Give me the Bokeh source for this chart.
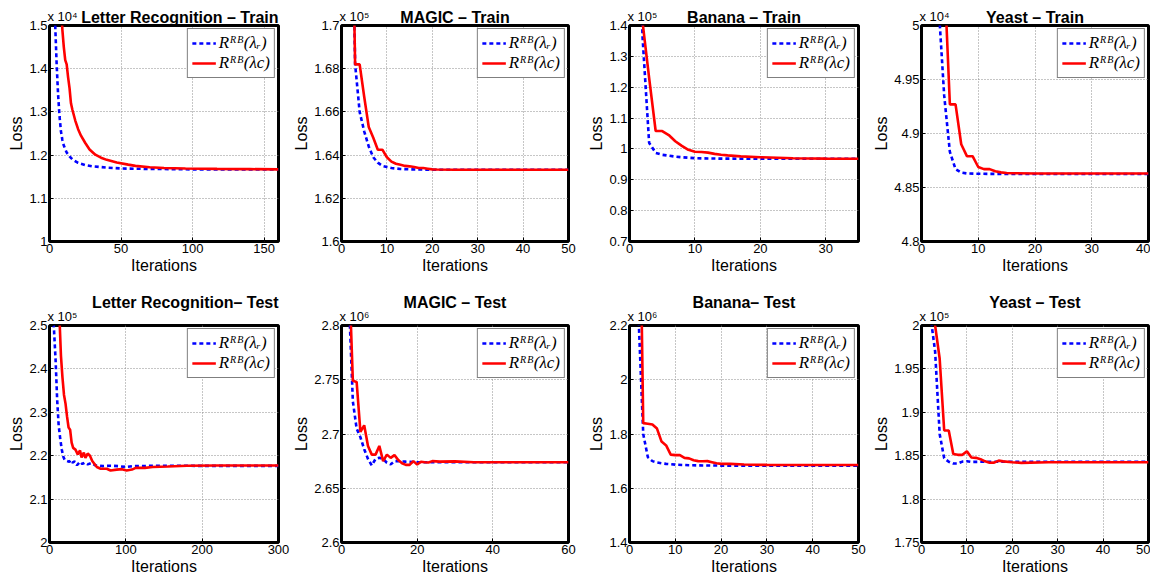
from bokeh.plotting import figure
from bokeh.layouts import column, row
from bokeh.models import FixedTicker, CustomJSTickFormatter, Label, Range1d
from bokeh.embed import file_html
from bokeh.resources import INLINE

# ---------------- data (loss values in units of the axis multiplier) ----------------
lr_train_iter_r = [1, 2, 3, 4, 5, 6, 7, 8, 9, 10, 12, 14, 16, 20, 25, 30, 40, 50, 70, 100, 130, 160]
lr_train_loss_r = [2.10, 1.80, 1.62, 1.50, 1.41, 1.34, 1.29, 1.255, 1.235, 1.222, 1.206, 1.197, 1.190,
                   1.182, 1.177, 1.174, 1.171, 1.169, 1.168, 1.167, 1.167, 1.167]
lr_train_iter_c = [7, 8, 9, 10, 11, 12, 13, 14, 15, 16, 18, 20, 22, 25, 28, 32, 36, 40, 47, 55, 60, 70,
                   80, 95, 117, 140, 160]
lr_train_loss_c = [1.62, 1.55, 1.49, 1.45, 1.42, 1.41, 1.38, 1.355, 1.32, 1.305, 1.28, 1.26, 1.245, 1.228,
                   1.213, 1.201, 1.194, 1.189, 1.183, 1.178, 1.175, 1.172, 1.170, 1.169, 1.168, 1.1675, 1.167]

magic_train_iter_r = [2, 3, 4, 5, 6, 7, 8, 9, 10, 11, 12, 13, 15, 18, 20, 30, 50]
magic_train_loss_r = [1.80, 1.682, 1.660, 1.651, 1.644, 1.639, 1.6365, 1.635, 1.6345, 1.634, 1.6338,
                      1.6336, 1.6334, 1.6333, 1.6332, 1.6332, 1.6332]
magic_train_iter_c = [2, 3, 4, 5, 6, 7, 8, 9, 10, 11, 12, 13, 14, 15, 16, 17, 18, 19, 20, 21, 25, 30, 50]
magic_train_loss_c = [1.80, 1.682, 1.682, 1.667, 1.653, 1.648, 1.6425, 1.6425, 1.639, 1.637, 1.636,
                      1.6355, 1.635, 1.6348, 1.6345, 1.634, 1.634, 1.6337, 1.6334, 1.6333, 1.6332,
                      1.6332, 1.6332]

banana_train_iter_r = [1, 2, 3, 4, 5, 6, 7, 8, 10, 12, 15, 20, 35]
banana_train_loss_r = [2.0, 1.36, 1.02, 0.987, 0.981, 0.978, 0.975, 0.973, 0.970, 0.969, 0.9685, 0.968, 0.968]
banana_train_iter_c = [1, 2, 3, 4, 5, 6, 7, 8, 9, 10, 11, 12, 13, 14, 15, 17, 20, 25, 30, 35]
banana_train_loss_c = [1.9, 1.41, 1.23, 1.058, 1.058, 1.045, 1.025, 1.01, 0.997, 0.991, 0.990, 0.988,
                       0.984, 0.981, 0.979, 0.976, 0.973, 0.970, 0.9685, 0.968]

yeast_train_iter_r = [2, 3, 4, 5, 6, 7, 8, 10, 15, 40]
yeast_train_loss_r = [5.15, 5.02, 4.935, 4.883, 4.867, 4.8638, 4.863, 4.8627, 4.8625, 4.8625]
yeast_train_iter_c = [3, 4, 5, 6, 7, 8, 9, 10, 11, 12, 13, 14, 15, 16, 20, 40]
yeast_train_loss_c = [5.2, 5.05, 4.927, 4.927, 4.89, 4.879, 4.879, 4.869, 4.867, 4.867, 4.865, 4.864,
                      4.8634, 4.8632, 4.863, 4.863]

lr_test_iter_r = [3, 5, 8, 10, 12, 14, 16, 18, 20, 23, 26, 28, 30, 33, 36, 40, 43, 46, 50, 55, 60, 70, 80,
                  90, 100, 110, 130, 160, 200, 300]
lr_test_loss_r = [2.65, 2.52, 2.42, 2.33, 2.27, 2.24, 2.215, 2.198, 2.19, 2.188, 2.186, 2.19, 2.184, 2.187,
                  2.178, 2.186, 2.181, 2.184, 2.18, 2.183, 2.178, 2.176, 2.177, 2.176, 2.174, 2.176,
                  2.1765, 2.177, 2.1765, 2.1765]
lr_test_iter_c = [12, 13, 15, 17, 19, 21, 23, 25, 27, 29, 31, 34, 37, 40, 42, 45, 47, 50, 53, 56, 59, 62,
                  67, 75, 80, 88, 95, 101, 108, 113, 125, 135, 155, 180, 220, 300]
lr_test_loss_c = [2.56, 2.52, 2.43, 2.38, 2.34, 2.32, 2.29, 2.265, 2.26, 2.23, 2.218, 2.214, 2.203, 2.212,
                  2.196, 2.207, 2.195, 2.205, 2.2, 2.188, 2.181, 2.174, 2.17, 2.17, 2.166, 2.168, 2.169,
                  2.166, 2.168, 2.172, 2.172, 2.174, 2.175, 2.177, 2.1775, 2.1775]

magic_test_iter_r = [2, 3, 4, 5, 6, 7, 8, 9, 10, 11, 12, 13, 14, 15, 17, 20, 60]
magic_test_loss_r = [2.82, 2.73, 2.705, 2.697, 2.686, 2.677, 2.671, 2.677, 2.678, 2.677, 2.6735, 2.672,
                     2.675, 2.675, 2.6745, 2.674, 2.674]
magic_test_iter_c = [2, 3, 4, 5, 6, 7, 8, 9, 10, 11, 12, 13, 14, 15, 16, 17, 18, 19, 20, 21, 22, 23, 24,
                     26, 30, 35, 40, 60]
magic_test_loss_c = [2.85, 2.749, 2.748, 2.702, 2.708, 2.689, 2.681, 2.681, 2.689, 2.675, 2.681, 2.678,
                     2.6805, 2.676, 2.673, 2.6715, 2.6715, 2.675, 2.6718, 2.6745, 2.674, 2.6738, 2.675,
                     2.6745, 2.6748, 2.674, 2.674, 2.674]

banana_test_iter_r = [1, 2, 3, 4, 5, 6, 7, 8, 10, 13, 16, 20, 50]
banana_test_loss_r = [2.6, 2.22, 1.80, 1.715, 1.70, 1.695, 1.692, 1.69, 1.687, 1.685, 1.684, 1.6835, 1.6835]
banana_test_iter_c = [2, 3, 4, 5, 6, 7, 8, 9, 10, 11, 12, 13, 14, 15, 16, 17, 18, 19, 20, 22, 25, 30, 50]
banana_test_loss_c = [3.0, 1.84, 1.838, 1.835, 1.82, 1.772, 1.758, 1.724, 1.722, 1.722, 1.712, 1.710,
                      1.703, 1.700, 1.6995, 1.700, 1.696, 1.692, 1.690, 1.690, 1.6875, 1.686, 1.6855]

yeast_test_iter_r = [1, 2, 3, 4, 5, 6, 7, 8, 9, 10, 11, 13, 50]
yeast_test_loss_r = [2.06, 2.01, 1.97, 1.875, 1.847, 1.843, 1.841, 1.841, 1.8432, 1.8436, 1.8428, 1.843, 1.843]
yeast_test_iter_c = [2, 3, 4, 5, 6, 7, 8, 9, 10, 11, 12, 13, 14, 15, 16, 17, 18, 20, 22, 28, 50]
yeast_test_loss_c = [2.05, 2.0, 1.962, 1.879, 1.879, 1.852, 1.851, 1.851, 1.855, 1.848, 1.8475, 1.846,
                     1.8435, 1.8418, 1.842, 1.8443, 1.8435, 1.8425, 1.8417, 1.8425, 1.8425]

panel_titles = ["Letter Recognition – Train", "MAGIC – Train", "Banana – Train", "Yeast – Train",
                "Letter Recognition– Test", "MAGIC – Test", "Banana– Test", "Yeast – Test"]
exponent_labels = ["x 10⁴", "x 10⁵", "x 10⁵", "x 10⁴", "x 10⁵", "x 10⁶", "x 10⁶", "x 10⁵"]
x_max = [160, 50, 35, 40, 300, 60, 50, 50]
x_tick_lists = [[0, 50, 100, 150], [0, 10, 20, 30, 40, 50], [0, 10, 20, 30], [0, 10, 20, 30, 40],
                [0, 100, 200, 300], [0, 20, 40, 60], [0, 10, 20, 30, 40, 50], [0, 10, 20, 30, 40, 50]]
y_limits = [(1.0, 1.5), (1.6, 1.7), (0.7, 1.4), (4.8, 5.0), (2.0, 2.5), (2.6, 2.8), (1.4, 2.2), (1.75, 2.0)]
y_tick_lists = [[1.0, 1.1, 1.2, 1.3, 1.4, 1.5],
                [1.6, 1.62, 1.64, 1.66, 1.68, 1.7],
                [0.7, 0.8, 0.9, 1.0, 1.1, 1.2, 1.3, 1.4],
                [4.8, 4.85, 4.9, 4.95, 5.0],
                [2.0, 2.1, 2.2, 2.3, 2.4, 2.5],
                [2.6, 2.65, 2.7, 2.75, 2.8],
                [1.4, 1.6, 1.8, 2.0, 2.2],
                [1.75, 1.8, 1.85, 1.9, 1.95, 2.0]]
legend_labels = ["Rᴿᴮ(λᵣ)", "Rᴿᴮ(λc)"]
x_axis_label = "Iterations"
y_axis_label = "Loss"

series = [
    (lr_train_iter_r, lr_train_loss_r, lr_train_iter_c, lr_train_loss_c),
    (magic_train_iter_r, magic_train_loss_r, magic_train_iter_c, magic_train_loss_c),
    (banana_train_iter_r, banana_train_loss_r, banana_train_iter_c, banana_train_loss_c),
    (yeast_train_iter_r, yeast_train_loss_r, yeast_train_iter_c, yeast_train_loss_c),
    (lr_test_iter_r, lr_test_loss_r, lr_test_iter_c, lr_test_loss_c),
    (magic_test_iter_r, magic_test_loss_r, magic_test_iter_c, magic_test_loss_c),
    (banana_test_iter_r, banana_test_loss_r, banana_test_iter_c, banana_test_loss_c),
    (yeast_test_iter_r, yeast_test_loss_r, yeast_test_iter_c, yeast_test_loss_c),
]

# ---------------- layout ----------------
col_left = [49, 49, 49, 48]
col_right = [12, 12, 12, 2]
col_frame_w = [229, 229, 229, 230]
row_top = [25, 34]
row_frame_h = [218, 220]
row_bottom = [48, 32]
exp_side = ["below", "above"]   # side panel that reserves room for the multiplier label

fmt_code = "return String(Number(tick.toFixed(4)));"
SANS = "Liberation Sans"


def make_panel(i):
    c = i % 4
    r = i // 4
    xs_r, ys_r, xs_c, ys_c = series[i]
    p = figure(width=col_left[c] + col_frame_w[c] + col_right[c],
               height=row_top[r] + row_frame_h[r] + row_bottom[r],
               x_range=Range1d(0, x_max[i]), y_range=Range1d(*y_limits[i]),
               min_border_left=col_left[c], min_border_right=col_right[c],
               min_border_top=row_top[r], min_border_bottom=row_bottom[r],
               output_backend="svg", toolbar_location=None, tools="",
               title=panel_titles[i])
    p.title.text_font = SANS
    p.title.text_font_size = "16px"
    p.title.text_font_style = "bold"
    p.title.text_color = "black"
    p.title.standoff = 0
    p.title.align = "right" if c == 0 else "center"

    p.background_fill_color = "white"
    p.border_fill_color = "white"
    p.outline_line_color = "black"
    p.outline_line_width = 3
    p.outline_line_alpha = 1.0

    p.xaxis.ticker = FixedTicker(ticks=x_tick_lists[i])
    p.yaxis.ticker = FixedTicker(ticks=y_tick_lists[i])
    p.xaxis.formatter = CustomJSTickFormatter(code=fmt_code)
    p.yaxis.formatter = CustomJSTickFormatter(code=fmt_code)
    p.xaxis.axis_label = x_axis_label
    p.yaxis.axis_label = y_axis_label
    for ax in (p.xaxis[0], p.yaxis[0]):
        ax.axis_line_color = None
        ax.major_tick_in = 4
        ax.major_tick_out = 0
        ax.major_tick_line_color = "black"
        ax.minor_tick_line_color = None
        ax.major_label_text_font = SANS
        ax.major_label_text_font_size = "13px"
        ax.major_label_text_color = "black"
        ax.major_label_standoff = 2
        ax.axis_label_text_font = SANS
        ax.axis_label_text_font_size = "16px"
        ax.axis_label_text_font_style = "normal"
        ax.axis_label_text_color = "black"
        ax.axis_label_standoff = 1

    for g in (p.xgrid[0], p.ygrid[0]):
        g.grid_line_color = "#8c8c8c"
        g.grid_line_dash = "1 2"
        g.grid_line_width = 1

    p.line(xs_r, ys_r, line_color="#0000ff", line_width=2.6, line_dash="4 3",
           legend_label=legend_labels[0])
    p.line(xs_c, ys_c, line_color="#ff0000", line_width=2.6,
           legend_label=legend_labels[1])

    lg = p.legend[0]
    lg.location = "top_right"
    lg.margin = 3
    lg.padding = 4
    lg.spacing = 0
    lg.border_line_color = "black"
    lg.border_line_width = 1
    lg.background_fill_color = "white"
    lg.background_fill_alpha = 1.0
    lg.label_text_font = "Liberation Serif"
    lg.label_text_font_style = "italic"
    lg.label_text_font_size = "17px"
    lg.label_text_color = "black"
    lg.glyph_width = 24
    lg.glyph_height = 16
    lg.label_height = 16
    lg.label_standoff = 3

    # axis multiplier, drawn at the top-left corner of the frame (kept in a side
    # panel so that it is not clipped to the frame)
    p.add_layout(Label(x=0, y=y_limits[i][1], text=exponent_labels[i],
                       text_font=SANS, text_font_size="13px", text_color="black",
                       text_align="left", text_baseline="bottom",
                       x_offset=-2, y_offset=2), exp_side[r])
    return p


panels = [make_panel(i) for i in range(8)]
layout = column(row(*panels[:4]), row(*panels[4:]))

open("out.html", "w").write(file_html(layout, INLINE))
